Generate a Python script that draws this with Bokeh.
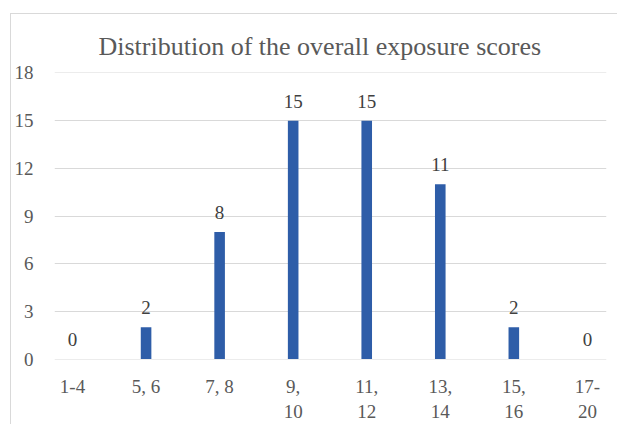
from bokeh.plotting import figure
from bokeh.models import ColumnDataSource, FixedTicker, Range1d, LabelSet
from bokeh.embed import file_html
from bokeh.resources import INLINE

categories = ["1-4", "5, 6", "7, 8", "9,\n10", "11,\n12", "13,\n14", "15,\n16", "17-\n20"]
counts = [0, 2, 8, 15, 15, 11, 2, 0]
y_ticks = [0, 3, 6, 9, 12, 15, 18]

FONT = "Liberation Serif"
xs = list(range(len(categories)))
src = ColumnDataSource(dict(x=xs, y=counts, lab=[str(c) for c in counts]))

p = figure(width=607, height=411, output_backend="svg", toolbar_location=None,
           x_range=Range1d(-0.245, 7.26), y_range=Range1d(-0.03, 18.03),
           min_border_left=43, min_border_right=12, min_border_top=58, min_border_bottom=66,
           margin=(13, 0, 0, 10),
           styles={"border-left": "1px solid #d9d9d9", "border-top": "1px solid #d9d9d9"},
           title="Distribution of the overall exposure scores")
p.outline_line_color = None
p.background_fill_color = "white"
p.border_fill_color = "white"

p.title.text_font = FONT
p.title.text_font_size = "26px"
p.title.text_font_style = "normal"
p.title.text_color = "#595959"
p.title.align = "left"
p.title.offset = 44
p.title.standoff = 23

p.vbar(x="x", top="y", width=0.144, source=src, fill_color="#2E5DA8", line_color=None)

labels = LabelSet(x="x", y="y", text="lab", source=src, text_align="center",
                  text_baseline="alphabetic", y_offset=13, text_font=FONT,
                  text_font_size="19px", text_color="#404040")
p.add_layout(labels)

p.xaxis.ticker = FixedTicker(ticks=xs)
p.xaxis.major_label_overrides = {i: c for i, c in enumerate(categories)}
p.yaxis.ticker = FixedTicker(ticks=y_ticks)
for ax in (p.xaxis, p.yaxis):
    ax.axis_line_color = None
    ax.major_tick_line_color = None
    ax.minor_tick_line_color = None
    ax.major_tick_out = 0
    ax.major_tick_in = 0
    ax.minor_tick_out = 0
    ax.minor_tick_in = 0
    ax.major_label_text_font = FONT
    ax.major_label_text_font_size = "19px"
    ax.major_label_text_color = "#595959"
p.xaxis.major_label_standoff = 16
p.yaxis.major_label_standoff = 21
p.yaxis.major_label_text_align = "center"

p.xgrid.grid_line_color = None
p.ygrid.grid_line_color = "#d9d9d9"
p.ygrid.grid_line_width = 1

open("out.html", "w").write(file_html(p, INLINE))
